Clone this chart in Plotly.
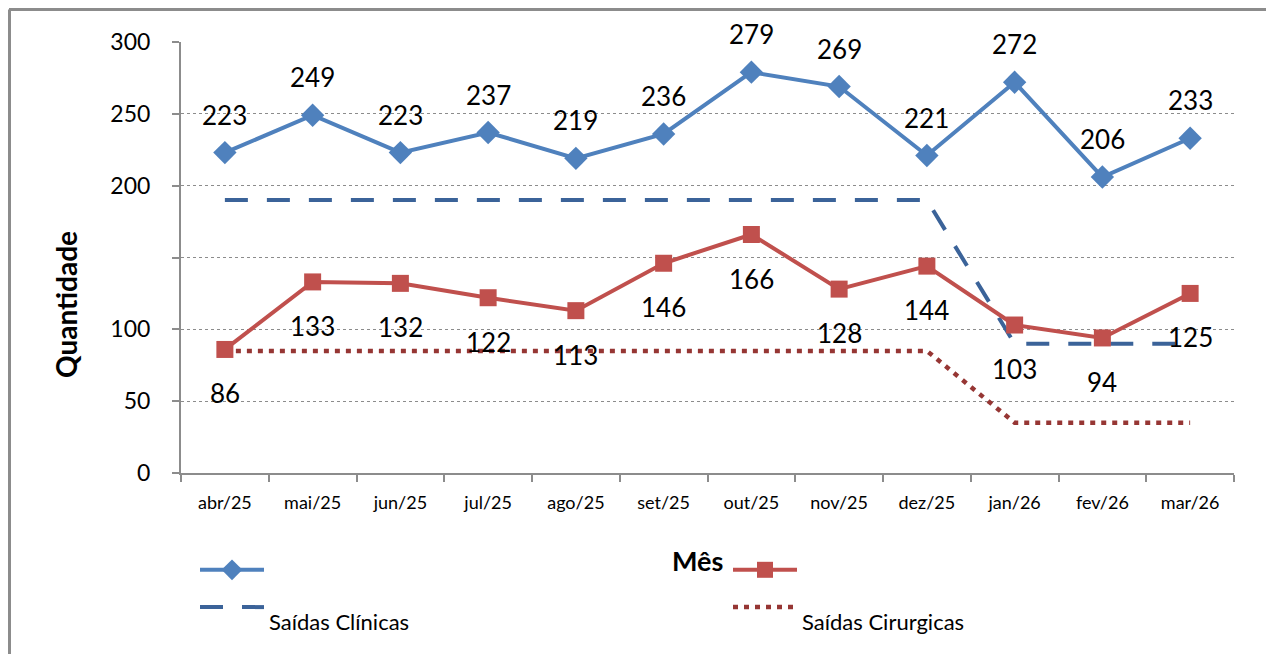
import plotly.graph_objects as go

meses = ["abr/25", "mai/25", "jun/25", "jul/25", "ago/25", "set/25",
         "out/25", "nov/25", "dez/25", "jan/26", "fev/26", "mar/26"]
clinicas = [223, 249, 223, 237, 219, 236, 279, 269, 221, 272, 206, 233]
cirurgicas = [86, 133, 132, 122, 113, 146, 166, 128, 144, 103, 94, 125]
meta_clinicas = [190, 190, 190, 190, 190, 190, 190, 190, 190, 90, 90, 90]
meta_cirurgicas = [85, 85, 85, 85, 85, 85, 85, 85, 85, 35, 35, 35]
y_ticks = [0, 50, 100, 150, 200, 250, 300]
y_ticktext = ["0", "50", "100", "", "200", "250", "300"]

BLUE = "#4F81BD"
RED = "#C0504D"
DBLUE = "#3B6399"
DRED = "#963634"
FONT = "Lato, Open Sans, sans-serif"

# page has an 8px body margin; the figure is laid out in its own coordinates
OFF = 8
W, H = 1258, 646
L, T, R, B = 173, 34, 32, 181
PW, PH = W - L - R, H - T - B


def px_x(page_x):
    return (page_x - OFF - L) / PW


def px_y(page_y):
    return (H - B - (page_y - OFF)) / PH


fig = go.Figure()
fig.add_trace(go.Scatter(x=meses, y=meta_clinicas, mode="lines", name="<br>Saídas Clínicas",
                         line=dict(color=DBLUE, width=4, dash="23px,19px"), legend="legend3"))
fig.add_trace(go.Scatter(x=meses, y=meta_cirurgicas, mode="lines", name="<br>Saídas Cirurgicas",
                         line=dict(color=DRED, width=4.5, dash="5px,6px"), legend="legend4"))
fig.add_trace(go.Scatter(x=meses, y=clinicas, mode="lines+markers", name=" ",
                         line=dict(color=BLUE, width=4),
                         marker=dict(symbol="diamond", size=18, color=BLUE), legend="legend"))
fig.add_trace(go.Scatter(x=meses, y=cirurgicas, mode="lines+markers", name=" ",
                         line=dict(color=RED, width=4),
                         marker=dict(symbol="square", size=17, color=RED), legend="legend2"))

for m, v in zip(meses, clinicas):
    fig.add_annotation(x=m, y=v, text=str(v), showarrow=False, yshift=38,
                       font=dict(family=FONT, size=26, color="black"))
for m, v in zip(meses, cirurgicas):
    fig.add_annotation(x=m, y=v, text=str(v), showarrow=False, yshift=-44,
                       font=dict(family=FONT, size=26, color="black"))

fig.add_annotation(xref="paper", yref="paper", x=px_x(66), y=px_y(305),
                   xanchor="center", yanchor="middle",
                   text="<b>Quantidade</b>", textangle=-90, showarrow=False,
                   font=dict(family=FONT, size=28, color="black"))
fig.add_annotation(xref="paper", yref="paper", x=px_x(697), y=px_y(560),
                   xanchor="center", yanchor="middle",
                   text="<b>Mês</b>", showarrow=False,
                   font=dict(family=FONT, size=27, color="black"))

# outer chart frame (top and left edges visible in the reference)
fig.add_shape(type="line", xref="paper", yref="paper", x0=px_x(9), x1=px_x(1290),
              y0=px_y(9.5), y1=px_y(9.5), line=dict(color="#8C8C8C", width=3))
fig.add_shape(type="line", xref="paper", yref="paper", x0=px_x(9.5), x1=px_x(9.5),
              y0=px_y(9.5), y1=px_y(700), line=dict(color="#8C8C8C", width=3))

legend_common = dict(orientation="v", yanchor="top", xanchor="left", itemwidth=64,
                     font=dict(family=FONT, size=22, color="black"),
                     bgcolor="rgba(0,0,0,0)")

fig.update_layout(
    width=W, height=H,
    margin=dict(l=L, r=R, t=T, b=B, autoexpand=False),
    paper_bgcolor="white", plot_bgcolor="white",
    font=dict(family=FONT, color="black"),
    showlegend=True,
    legend=dict(x=px_x(195), y=px_y(549), **legend_common),
    legend2=dict(x=px_x(728), y=px_y(549), **legend_common),
    legend3=dict(x=px_x(195), y=px_y(572), **legend_common),
    legend4=dict(x=px_x(728), y=px_y(572), **legend_common),
    xaxis=dict(
        range=[-0.5, len(meses) - 0.5],
        showline=True, linecolor="#8C8C8C", linewidth=2,
        ticks="outside", ticklen=7, tickcolor="#8C8C8C", tickwidth=2,
        ticklabelstandoff=12,
        tickson="boundaries", tickfont=dict(family=FONT, size=18, color="black"),
        showgrid=False, zeroline=False,
    ),
    yaxis=dict(
        range=[0, 300], tickvals=y_ticks, ticktext=y_ticktext,
        showline=True, linecolor="#8C8C8C", linewidth=2,
        ticks="outside", ticklen=7, tickcolor="#8C8C8C", tickwidth=2,
        ticklabelstandoff=17,
        tickfont=dict(family=FONT, size=23, color="black"),
        showgrid=True, gridcolor="#8C8C8C", gridwidth=1, griddash="dot",
        zeroline=False,
    ),
)

fig.write_html("out.html")
